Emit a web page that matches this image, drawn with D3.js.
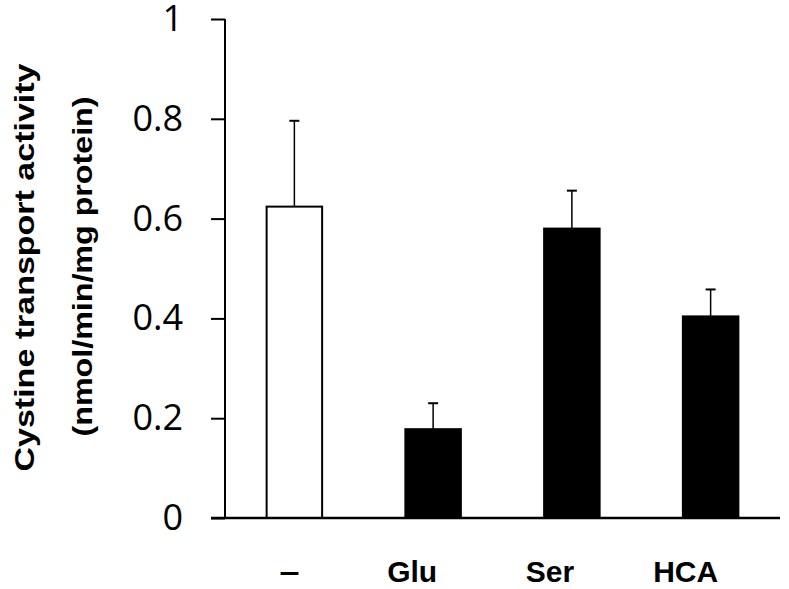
<!DOCTYPE html>
<html lang="en">
<head>
<meta charset="UTF-8">
<title></title>
<script src="https://cdn.jsdelivr.net/npm/d3@7"></script>
<style>
  body { margin: 0; background: #fff; }
</style>
</head>
<body>
<div id="chart"></div>
<script>
    // data
    var categories = ["-", "Glu", "Ser", "HCA"];
    var tickLabels = ["\u2013", "Glu", "Ser", "HCA"];
    var means = [0.624, 0.178, 0.580, 0.404];
    var errors = [0.172, 0.052, 0.076, 0.054];
    var fills = ["#fff", "#000", "#000", "#000"];
    var yTicks = [0, 0.2, 0.4, 0.6, 0.8, 1];

    var W = 789, H = 589;
    var svg = d3.select("#chart").append("svg")
            .attr("width", W)
            .attr("height", H);

    var x = d3.scaleBand()
            .domain(categories)
            .range([225, 780])
            .paddingInner(0.6)
            .paddingOuter(0.3);

    var y = d3.scaleLinear()
            .domain([0, 1])
            .range([518, 19]);

    // y axis
    var yAxis = svg.append("g")
            .attr("transform", "translate(225,0)")
            .call(d3.axisLeft(y).tickValues(yTicks).tickSize(14).tickPadding(28)
                .tickFormat(function (d) { return d3.format("")(d); }));
    yAxis.select(".domain").remove();
    yAxis.selectAll(".tick line").attr("stroke", "#000").attr("stroke-width", 2);
    yAxis.selectAll(".tick text")
            .attr("font-family", "'Open Sans', sans-serif")
            .attr("font-size", 36)
            .attr("fill", "#000");

    svg.append("line")
            .attr("x1", 225).attr("x2", 225)
            .attr("y1", y(1)).attr("y2", y(0))
            .attr("stroke", "#000").attr("stroke-width", 2);

    // bars
    svg.selectAll("rect.bar")
            .data(categories)
            .enter().append("rect")
            .attr("class", "bar")
            .attr("x", function (d) { return x(d); })
            .attr("width", x.bandwidth())
            .attr("y", function (d, i) { return y(means[i]); })
            .attr("height", function (d, i) { return y(0) - y(means[i]); })
            .attr("fill", function (d, i) { return fills[i]; })
            .attr("stroke", "#000")
            .attr("stroke-width", 2);

    // upper error bars
    var eb = svg.selectAll("g.err")
            .data(categories)
            .enter().append("g")
            .attr("class", "err");
    eb.append("line")
            .attr("x1", function (d) { return x(d) + x.bandwidth() / 2; })
            .attr("x2", function (d) { return x(d) + x.bandwidth() / 2; })
            .attr("y1", function (d, i) { return y(means[i]); })
            .attr("y2", function (d, i) { return y(means[i] + errors[i]); })
            .attr("stroke", "#000").attr("stroke-width", 1.5);
    eb.append("line")
            .attr("x1", function (d) { return x(d) + x.bandwidth() / 2 - 5; })
            .attr("x2", function (d) { return x(d) + x.bandwidth() / 2 + 5; })
            .attr("y1", function (d, i) { return y(means[i] + errors[i]); })
            .attr("y2", function (d, i) { return y(means[i] + errors[i]); })
            .attr("stroke", "#000").attr("stroke-width", 2);

    // x axis line
    svg.append("line")
            .attr("x1", 211).attr("x2", 780)
            .attr("y1", y(0)).attr("y2", y(0))
            .attr("stroke", "#000").attr("stroke-width", 2.5);

    // category labels (sit a bit left of the bars in the original)
    var labelShift = [-5, -21, -22, -25];
    var cat = svg.selectAll("text.cat")
            .data(categories)
            .enter().append("text")
            .attr("class", "cat")
            .attr("x", function (d, i) { return x(d) + x.bandwidth() / 2 + labelShift[i]; })
            .attr("y", 582)
            .attr("text-anchor", "middle")
            .attr("font-family", "'Liberation Sans', Arial, sans-serif")
            .attr("font-weight", "bold")
            .attr("font-size", 30)
            .text(function (d, i) { return tickLabels[i]; });
    // the dash is a bit wider than a plain en dash
    cat.filter(function (d, i) { return i === 0; })
            .attr("textLength", 20)
            .attr("lengthAdjust", "spacingAndGlyphs");

    // y title (stretched along its length like the original)
    var mid = (y(0) + y(1)) / 2;
    var title = svg.append("g")
            .attr("font-family", "'Liberation Sans', Arial, sans-serif")
            .attr("font-weight", "bold")
            .attr("font-size", 28)
            .attr("text-anchor", "middle");
    title.append("text")
            .attr("transform", "translate(34," + (mid - 1) + ") rotate(-90)")
            .attr("textLength", 408)
            .attr("lengthAdjust", "spacingAndGlyphs")
            .text("Cystine transport activity");
    title.append("text")
            .attr("transform", "translate(92," + (mid - 2) + ") rotate(-90)")
            .attr("textLength", 340)
            .attr("lengthAdjust", "spacingAndGlyphs")
            .text("(nmol/min/mg protein)");
</script>
</body>
</html>
